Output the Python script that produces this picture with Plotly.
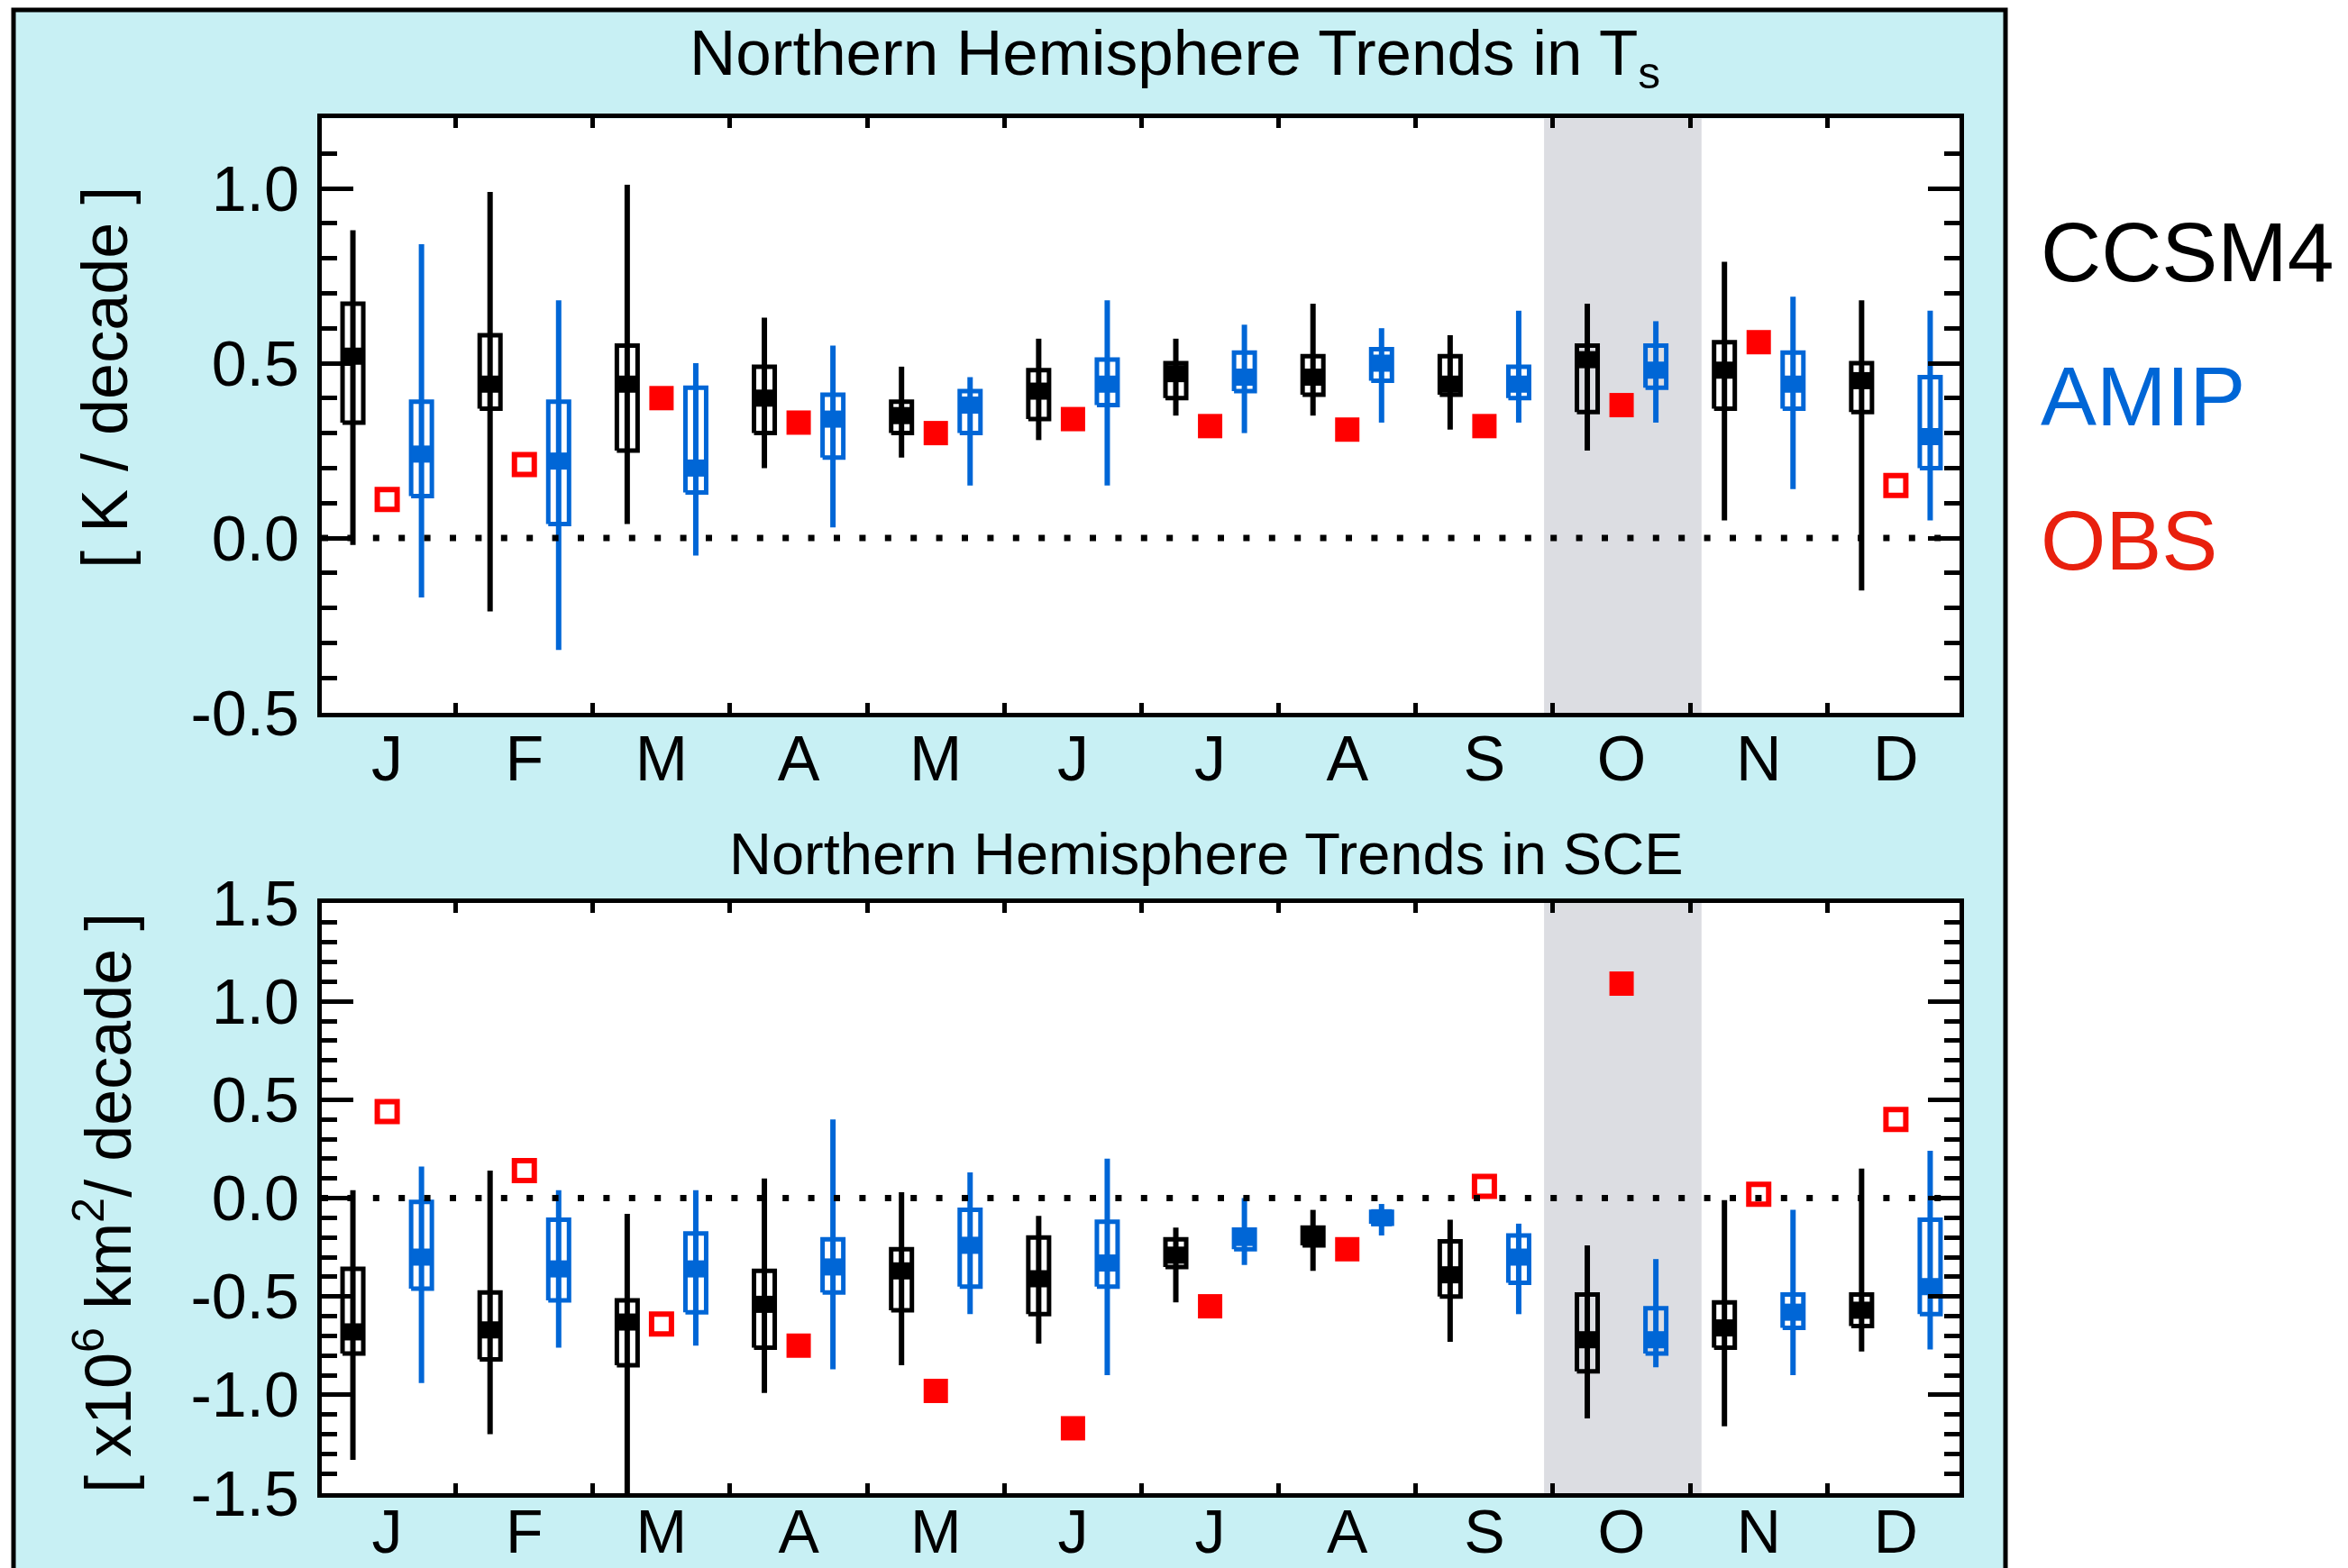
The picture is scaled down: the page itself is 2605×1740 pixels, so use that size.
import plotly.graph_objects as go

# ---------------- data ----------------
MONTHS = ["J", "F", "M", "A", "M", "J", "J", "A", "S", "O", "N", "D"]
MONTH_EDGES = list(range(1, 12))

TS_TICKVALS = [-0.5, 0.0, 0.5, 1.0]
TS_TICKTEXT = ["-0.5", "0.0", "0.5", "1.0"]
SCE_TICKVALS = [-1.5, -1.0, -0.5, 0.0, 0.5, 1.0, 1.5]
SCE_TICKTEXT = ["-1.5", "-1.0", "-0.5", "0.0", "0.5", "1.0", "1.5"]

# Northern Hemisphere trends in Ts  [K / decade]
TS_CCSM4_MIN = [-0.02, -0.21, 0.04, 0.20, 0.23, 0.28, 0.35, 0.35, 0.31, 0.25, 0.05, -0.15]
TS_CCSM4_Q25 = [0.33, 0.37, 0.25, 0.30, 0.30, 0.34, 0.40, 0.41, 0.41, 0.36, 0.37, 0.36]
TS_CCSM4_MED = [0.52, 0.44, 0.44, 0.40, 0.35, 0.42, 0.47, 0.46, 0.44, 0.51, 0.48, 0.45]
TS_CCSM4_Q75 = [0.67, 0.58, 0.55, 0.49, 0.39, 0.48, 0.50, 0.52, 0.52, 0.55, 0.56, 0.50]
TS_CCSM4_MAX = [0.88, 0.99, 1.01, 0.63, 0.49, 0.57, 0.57, 0.67, 0.58, 0.67, 0.79, 0.68]

TS_AMIP_MIN = [-0.17, -0.32, -0.05, 0.03, 0.15, 0.15, 0.30, 0.33, 0.33, 0.33, 0.14, 0.05]
TS_AMIP_Q25 = [0.12, 0.04, 0.13, 0.23, 0.30, 0.38, 0.42, 0.45, 0.40, 0.43, 0.37, 0.20]
TS_AMIP_MED = [0.24, 0.22, 0.20, 0.34, 0.38, 0.44, 0.46, 0.50, 0.44, 0.48, 0.44, 0.29]
TS_AMIP_Q75 = [0.39, 0.39, 0.43, 0.41, 0.42, 0.51, 0.53, 0.54, 0.49, 0.55, 0.53, 0.46]
TS_AMIP_MAX = [0.84, 0.68, 0.50, 0.55, 0.46, 0.68, 0.61, 0.60, 0.65, 0.62, 0.69, 0.65]

TS_OBS = [0.11, 0.21, 0.40, 0.33, 0.30, 0.34, 0.32, 0.31, 0.32, 0.38, 0.56, 0.15]
TS_OBS_FILLED = [False, False, True, True, True, True, True, True, True, True, True, False]

# Northern Hemisphere trends in SCE  [x10^6 km^2 / decade]
SCE_CCSM4_MIN = [-1.33, -1.20, -1.55, -0.99, -0.85, -0.74, -0.53, -0.37, -0.73, -1.12, -1.16, -0.78]
SCE_CCSM4_Q25 = [-0.79, -0.82, -0.85, -0.76, -0.57, -0.59, -0.35, -0.24, -0.50, -0.88, -0.76, -0.65]
SCE_CCSM4_MED = [-0.68, -0.67, -0.63, -0.54, -0.37, -0.41, -0.29, -0.20, -0.39, -0.72, -0.66, -0.57]
SCE_CCSM4_Q75 = [-0.36, -0.48, -0.52, -0.37, -0.26, -0.20, -0.21, -0.15, -0.22, -0.49, -0.53, -0.49]
SCE_CCSM4_MAX = [0.04, 0.14, -0.08, 0.10, 0.03, -0.09, -0.15, -0.06, -0.11, -0.24, -0.01, 0.15]

SCE_AMIP_MIN = [-0.94, -0.76, -0.75, -0.87, -0.59, -0.90, -0.34, -0.19, -0.59, -0.86, -0.90, -0.77]
SCE_AMIP_Q25 = [-0.46, -0.52, -0.58, -0.48, -0.45, -0.45, -0.26, -0.13, -0.43, -0.79, -0.66, -0.59]
SCE_AMIP_MED = [-0.30, -0.36, -0.36, -0.35, -0.24, -0.33, -0.20, -0.10, -0.30, -0.72, -0.58, -0.45]
SCE_AMIP_Q75 = [-0.02, -0.11, -0.18, -0.21, -0.06, -0.12, -0.16, -0.07, -0.19, -0.56, -0.49, -0.11]
SCE_AMIP_MAX = [0.16, 0.04, 0.04, 0.40, 0.13, 0.20, 0.00, -0.03, -0.13, -0.31, -0.06, 0.24]

SCE_OBS = [0.44, 0.14, -0.64, -0.75, -0.98, -1.17, -0.55, -0.26, 0.06, 1.09, 0.02, 0.40]
SCE_OBS_FILLED = [False, False, False, True, True, True, True, True, False, True, False, False]

SHADE_X = [8.935, 10.083]  # October highlight

# ---------------- style ----------------
W, H = 2605, 1740
FONT = "Liberation Sans, Arial, Helvetica, sans-serif"
BLACK = "#000000"
BLUE = "#0066d6"
RED = "#ff0000"
CYAN = "#c8f0f4"
SHADE = "#dcdde2"
HW = 0.0756  # half box width (x units)
XRANGE = [0.023, 11.964]


def px_x(p):
    return p / W


def px_y(p):
    return 1 - p / H


fig = go.Figure()


def add_boxes(xa, ya, off, wmin, q25, med, q75, wmax, color):
    xw, yw, xb, yb, xm, ym = [], [], [], [], [], []
    for i in range(len(MONTHS)):
        p = i + off
        xw += [p, p, None]
        yw += [wmin[i], wmax[i], None]
        xb += [p - HW, p + HW, p + HW, p - HW, p - HW, None]
        yb += [q25[i], q25[i], q75[i], q75[i], q25[i], None]
        xm += [p - HW, p + HW, None]
        ym += [med[i], med[i], None]
    common = dict(mode="lines", xaxis=xa, yaxis=ya, hoverinfo="skip", showlegend=False)
    fig.add_trace(go.Scatter(x=xw, y=yw, line=dict(color=color, width=6), **common))
    fig.add_trace(go.Scatter(x=xb, y=yb, line=dict(color=color, width=5), **common))
    fig.add_trace(go.Scatter(x=xm, y=ym, line=dict(color=color, width=19), **common))


def add_obs(xa, ya, vals, filled):
    xf = [i + 0.5 for i in range(len(vals)) if filled[i]]
    yf = [v for i, v in enumerate(vals) if filled[i]]
    xo = [i + 0.5 for i in range(len(vals)) if not filled[i]]
    yo = [v for i, v in enumerate(vals) if not filled[i]]
    fig.add_trace(go.Scatter(x=xf, y=yf, mode="markers", xaxis=xa, yaxis=ya, showlegend=False,
                             marker=dict(symbol="square", size=27, color=RED, line=dict(width=0))))
    fig.add_trace(go.Scatter(x=xo, y=yo, mode="markers", xaxis=xa, yaxis=ya, showlegend=False,
                             marker=dict(symbol="square-open", size=22, color=RED,
                                         line=dict(width=6, color=RED))))


def add_zero(xa, ya):
    fig.add_trace(go.Scatter(x=XRANGE, y=[0, 0], mode="lines", xaxis=xa, yaxis=ya, showlegend=False,
                             hoverinfo="skip", line=dict(color=BLACK, width=7, dash="7px,21.4px")))


# top panel
add_boxes("x", "y", 0.25, TS_CCSM4_MIN, TS_CCSM4_Q25, TS_CCSM4_MED, TS_CCSM4_Q75, TS_CCSM4_MAX, BLACK)
add_boxes("x", "y", 0.75, TS_AMIP_MIN, TS_AMIP_Q25, TS_AMIP_MED, TS_AMIP_Q75, TS_AMIP_MAX, BLUE)
add_obs("x", "y", TS_OBS, TS_OBS_FILLED)
add_zero("x", "y")
# bottom panel
add_boxes("x2", "y2", 0.25, SCE_CCSM4_MIN, SCE_CCSM4_Q25, SCE_CCSM4_MED, SCE_CCSM4_Q75, SCE_CCSM4_MAX, BLACK)
add_boxes("x2", "y2", 0.75, SCE_AMIP_MIN, SCE_AMIP_Q25, SCE_AMIP_MED, SCE_AMIP_Q75, SCE_AMIP_MAX, BLUE)
add_obs("x2", "y2", SCE_OBS, SCE_OBS_FILLED)
add_zero("x2", "y2")

XDOM = [px_x(357), px_x(2174)]
Y1DOM = [px_y(791), px_y(131.4)]
Y2DOM = [px_y(1657), px_y(1002)]


def xaxis_cfg(anchor, standoff, size):
    return dict(domain=XDOM, range=XRANGE, anchor=anchor, showgrid=False, zeroline=False,
                automargin=False,
                showline=True, linecolor=BLACK, linewidth=5, mirror="ticks",
                tickmode="array", tickvals=[i + 0.5 for i in range(len(MONTHS))], ticktext=MONTHS,
                ticks="", tickfont=dict(family=FONT, size=size, color=BLACK),
                ticklabelstandoff=standoff,
                minor=dict(tickmode="array", tickvals=MONTH_EDGES, ticks="inside", ticklen=11,
                           tickwidth=5, tickcolor=BLACK, showgrid=False))


def yaxis_cfg(anchor, dom, rng, tv, tt):
    return dict(domain=dom, range=rng, anchor=anchor, showgrid=False, zeroline=False,
                automargin=False,
                showline=True, linecolor=BLACK, linewidth=5, mirror="ticks",
                tickmode="array", tickvals=tv, ticktext=tt, ticks="inside", ticklen=35,
                tickwidth=5, tickcolor=BLACK, tickfont=dict(family=FONT, size=70, color=BLACK),
                ticklabelstandoff=6,
                minor=dict(tickmode="linear", tick0=0, dtick=0.1, ticks="inside", ticklen=17,
                           tickwidth=5, tickcolor=BLACK, showgrid=False))


shapes = [
    dict(type="rect", xref="paper", yref="paper", x0=px_x(15), x1=px_x(2225), y0=-0.05, y1=px_y(11),
         fillcolor=CYAN, line=dict(color=BLACK, width=5), layer="below"),
    dict(type="rect", xref="x domain", yref="y domain", x0=0, x1=1, y0=0, y1=1,
         fillcolor="white", line=dict(width=0), layer="below"),
    dict(type="rect", xref="x2 domain", yref="y2 domain", x0=0, x1=1, y0=0, y1=1,
         fillcolor="white", line=dict(width=0), layer="below"),
    dict(type="rect", xref="x", yref="y domain", x0=SHADE_X[0], x1=SHADE_X[1], y0=0, y1=1,
         fillcolor=SHADE, line=dict(width=0), layer="below"),
    dict(type="rect", xref="x2", yref="y2 domain", x0=SHADE_X[0], x1=SHADE_X[1], y0=0, y1=1,
         fillcolor=SHADE, line=dict(width=0), layer="below"),
]


def ann(text, x, y, size, color=BLACK, xanchor="center", angle=0):
    return dict(text=text, x=px_x(x), y=px_y(y), xref="paper", yref="paper", showarrow=False,
                xanchor=xanchor, yanchor="middle", textangle=angle,
                font=dict(family=FONT, size=size, color=color))


annotations = [
    ann("Northern Hemisphere Trends in T<sub>s</sub>", 1303, 64, 71),
    ann("Northern Hemisphere Trends in SCE", 1338, 947, 65),
    ann("[ K / decade ]", 116, 419, 72, angle=-90),
    ann("[ x10<sup>6</sup> km<sup>2</sup>/ decade ]", 114, 1335, 72, angle=-90),
    ann("CCSM4", 2262, 280, 93, BLACK, "left"),
    ann("AMIP", 2262, 440, 93, BLUE, "left"),
    ann("OBS", 2262, 600, 93, "#e8200e", "left"),
]

fig.update_layout(
    width=W, height=H, autosize=False,
    margin=dict(l=0, r=0, t=0, b=0, pad=0),
    paper_bgcolor="white", plot_bgcolor="white",
    showlegend=False,
    font=dict(family=FONT, color=BLACK),
    xaxis=xaxis_cfg("y", -14, 70),
    yaxis=yaxis_cfg("x", Y1DOM, [-0.5, 1.2], TS_TICKVALS, TS_TICKTEXT),
    xaxis2=xaxis_cfg("y2", -21, 68),
    yaxis2=yaxis_cfg("x2", Y2DOM, [-1.5, 1.5], SCE_TICKVALS, SCE_TICKTEXT),
    shapes=shapes,
    annotations=annotations,
)

fig.write_html("out.html")
